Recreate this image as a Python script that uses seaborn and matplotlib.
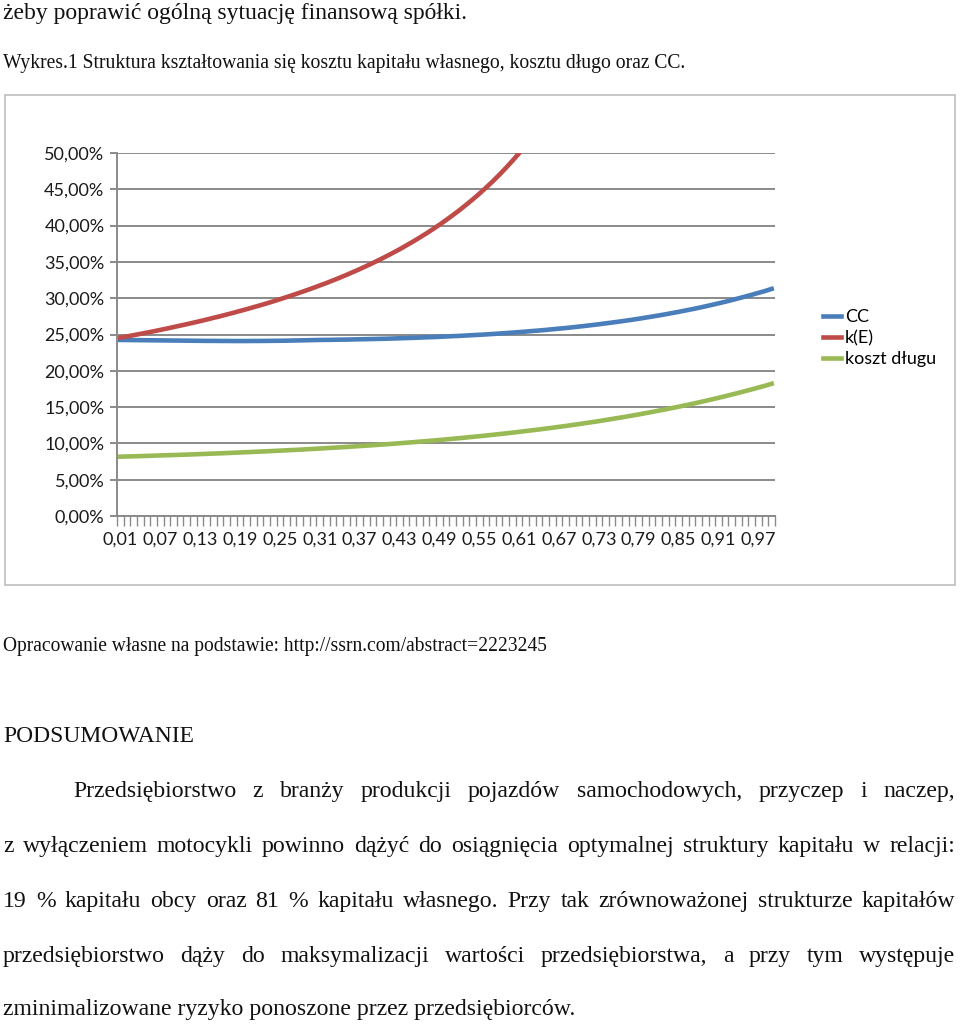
import numpy as np
import pandas as pd
import matplotlib
matplotlib.use("Agg")
import matplotlib.pyplot as plt
import seaborn as sns
from matplotlib.patches import Rectangle
from matplotlib.lines import Line2D

# ---------------- data (percent) ----------------
udzial_dlugu = np.round(np.arange(1, 100) / 100, 2)  # 0.01 ... 0.99 (categories)

cc = [24.25, 24.24, 24.23, 24.22, 24.21, 24.20, 24.19, 24.18, 24.17, 24.16,
      24.15, 24.14, 24.13, 24.12, 24.12, 24.11, 24.11, 24.10, 24.10, 24.10,
      24.11, 24.11, 24.12, 24.13, 24.14, 24.15, 24.17, 24.19, 24.21, 24.23,
      24.25, 24.26, 24.27, 24.29, 24.30, 24.32, 24.34, 24.36, 24.38, 24.40,
      24.42, 24.45, 24.48, 24.51, 24.54, 24.57, 24.61, 24.64, 24.68, 24.72,
      24.77, 24.81, 24.86, 24.91, 24.96, 25.01, 25.07, 25.13, 25.20, 25.26,
      25.33, 25.40, 25.48, 25.55, 25.63, 25.72, 25.81, 25.89, 25.99, 26.09,
      26.19, 26.30, 26.41, 26.53, 26.65, 26.77, 26.90, 27.03, 27.17, 27.32,
      27.47, 27.62, 27.78, 27.95, 28.12, 28.30, 28.48, 28.67, 28.87, 29.08,
      29.29, 29.51, 29.74, 29.98, 30.22, 30.47, 30.73, 30.99, 31.28]

k_e = [24.57, 24.73, 24.91, 25.08, 25.26, 25.44, 25.63, 25.82, 26.02, 26.22,
       26.42, 26.63, 26.84, 27.06, 27.29, 27.51, 27.75, 27.99, 28.24, 28.49,
       28.75, 29.01, 29.28, 29.56, 29.85, 30.15, 30.45, 30.76, 31.08, 31.41,
       31.75, 32.09, 32.45, 32.82, 33.20, 33.60, 34.00, 34.42, 34.85, 35.30,
       35.76, 36.24, 36.73, 37.25, 37.78, 38.33, 38.90, 39.49, 40.11, 40.75,
       41.42, 42.11, 42.84, 43.59, 44.38, 45.21, 46.07, 46.98, 47.93, 48.93,
       49.97, 51.08]

koszt_dlugu = [8.17, 8.20, 8.22, 8.25, 8.28, 8.31, 8.34, 8.37, 8.40, 8.43,
               8.46, 8.49, 8.53, 8.56, 8.60, 8.63, 8.67, 8.71, 8.75, 8.79,
               8.83, 8.87, 8.91, 8.96, 9.00, 9.05, 9.09, 9.14, 9.19, 9.24,
               9.29, 9.35, 9.40, 9.46, 9.51, 9.57, 9.63, 9.69, 9.75, 9.82,
               9.88, 9.95, 10.02, 10.09, 10.16, 10.24, 10.31, 10.39, 10.47, 10.55,
               10.64, 10.72, 10.81, 10.90, 10.99, 11.08, 11.18, 11.28, 11.38, 11.48,
               11.59, 11.70, 11.81, 11.92, 12.04, 12.16, 12.28, 12.40, 12.53, 12.66,
               12.80, 12.93, 13.07, 13.22, 13.37, 13.52, 13.67, 13.83, 13.99, 14.16,
               14.33, 14.51, 14.68, 14.87, 15.05, 15.25, 15.44, 15.64, 15.85, 16.06,
               16.28, 16.50, 16.73, 16.96, 17.20, 17.44, 17.69, 17.94, 18.21]

series_names = ["CC", "k(E)", "koszt długu"]
series_colors = ["#4a7ebb", "#be4b48", "#98b954"]
y_ticks = [0, 5, 10, 15, 20, 25, 30, 35, 40, 45, 50]
y_tick_labels = ["0,00%", "5,00%", "10,00%", "15,00%", "20,00%", "25,00%",
                 "30,00%", "35,00%", "40,00%", "45,00%", "50,00%"]
x_tick_labels = ["0,01", "0,07", "0,13", "0,19", "0,25", "0,31", "0,37", "0,43", "0,49",
                 "0,55", "0,61", "0,67", "0,73", "0,79", "0,85", "0,91", "0,97"]

rows = []
for name, vals in zip(series_names, [cc, k_e, koszt_dlugu]):
    for i, v in enumerate(vals):
        rows.append({"idx": i, "udzial": udzial_dlugu[i], "val": v, "seria": name})
df = pd.DataFrame(rows)

# ---------------- figure ----------------
W, H = 960, 1025
fig = plt.figure(figsize=(W / 100, H / 100), dpi=100)
fig.patch.set_facecolor("white")

chart_font = "Lato"
serif = "Liberation Serif"
cfs = 13

# chart outer frame
fig.add_artist(Rectangle((5 / W, 1 - 585 / H), 950 / W, 490 / H, transform=fig.transFigure,
                         fill=False, edgecolor="#c4c4c4", lw=1.3))

ax = fig.add_axes([117 / W, 1 - 516 / H, (775 - 117) / W, (516 - 153) / H])
sns.lineplot(data=df, x="idx", y="val", hue="seria", hue_order=series_names,
             palette=dict(zip(series_names, series_colors)), estimator=None, sort=False,
             lw=3.3, ax=ax, legend=False)
ax.set_xlim(-0.5, 98.5)
ax.set_ylim(0, 50)
ax.set_xlabel("")
ax.set_ylabel("")
ax.set_facecolor("none")

grid_c = "#8a8a8a"
ax.set_yticks(y_ticks)
ax.set_yticklabels(y_tick_labels, fontsize=cfs, family=chart_font, color="#1a1a1a")
ax.yaxis.grid(True, color=grid_c, lw=1.4)
ax.xaxis.grid(False)
ax.set_axisbelow(True)
for s in ["top", "right"]:
    ax.spines[s].set_visible(False)
for s in ["left", "bottom"]:
    ax.spines[s].set_color(grid_c)
    ax.spines[s].set_linewidth(1.4)
ax.tick_params(axis="y", length=5, width=1.4, color=grid_c, pad=4)

# tick marks at category boundaries, labels every 6th category
ax.set_xticks(np.arange(-0.5, 99, 1.0))
ax.set_xticklabels([])
ax.tick_params(axis="x", which="major", length=7, width=1.0, color=grid_c, direction="out")
ax.set_xticks(np.arange(0, 99, 6), minor=True)
ax.set_xticklabels(x_tick_labels, minor=True, fontsize=cfs, family=chart_font, color="#1a1a1a")
ax.tick_params(axis="x", which="minor", length=0, pad=11)

handles = [Line2D([0], [0], color=c, lw=3.3) for c in series_colors]
fig.legend(handles, series_names, loc="center left", bbox_to_anchor=(823 / W, 1 - 338 / H),
           frameon=False, prop={"family": chart_font, "size": cfs}, handlelength=1.0,
           handletextpad=0.22, labelspacing=0.28, borderpad=0, borderaxespad=0)

# ---------------- page text ----------------
renderer = fig.canvas.get_renderer()


def fit_text(x, yb, s, target_w, fs0=14):
    t = fig.text(x / W, 1 - yb / H, s, fontsize=fs0, family=serif, va="baseline",
                 ha="left", color="#111111")
    w = t.get_window_extent(renderer).width
    t.set_fontsize(fs0 * target_w / w)
    return t


fit_text(3, 19, "żeby poprawić ogólną sytuację finansową spółki.", 467)
fit_text(3, 68, "Wykres.1 Struktura kształtowania się kosztu kapitału własnego, kosztu długo oraz CC.", 685)
fit_text(3, 651, "Opracowanie własne na podstawie: http://ssrn.com/abstract=2223245", 547)
fit_text(3, 742, "PODSUMOWANIE", 192)

last = fit_text(3, 1015, "zminimalizowane ryzyko ponoszone przez przedsiębiorców.", 574)
pfs = last.get_fontsize()

para = [
    (73, 797, "Przedsiębiorstwo z branży produkcji pojazdów samochodowych, przyczep i naczep,"),
    (3, 852, "z wyłączeniem motocykli powinno dążyć do osiągnięcia optymalnej struktury kapitału w relacji:"),
    (3, 907, "19 % kapitału obcy oraz 81 % kapitału własnego. Przy tak zrównoważonej strukturze kapitałów"),
    (3, 962, "przedsiębiorstwo dąży do maksymalizacji wartości przedsiębiorstwa, a przy tym występuje"),
]
right_edge = 955
for left, yb, line in para:
    words = line.split(" ")
    ts = [fig.text(0, 1 - yb / H, w, fontsize=pfs, family=serif, va="baseline", ha="left",
                   color="#111111") for w in words]
    ws = [t.get_window_extent(renderer).width for t in ts]
    gap = (right_edge - left - sum(ws)) / (len(ws) - 1)
    x = left
    for t, w in zip(ts, ws):
        t.set_x(x / W)
        x += w + gap

fig.savefig("out.png", dpi=100, facecolor="white")
